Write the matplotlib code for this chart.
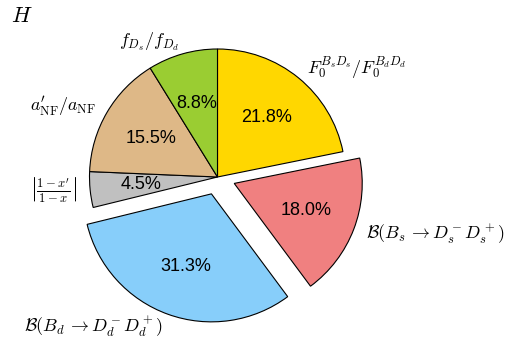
import matplotlib
matplotlib.use("Agg")
import matplotlib.pyplot as plt

# slice values (percent) in clockwise order from the top
labels = [r'$F_0^{B_sD_s}/F_0^{B_dD_d}$',
          r'$\mathcal{B}(B_s\, \to D_s^-D_s^+)$',
          r'$\mathcal{B}(B_d\, \to D_d^-D_d^+)$',
          r'$\left|\frac{1-x^\prime}{1-x}\right|$',
          r'$a_{\rm NF}^\prime/a_{\rm NF}$',
          r'$f_{D_s}/f_{D_d}$']
values = [21.8, 18.0, 31.3, 4.5, 15.5, 8.8]
colors = ['gold', 'lightcoral', 'lightskyblue', 'silver', 'burlywood', 'yellowgreen']
explode = [0, 0.14, 0.14, 0, 0, 0]

plt.rcParams['mathtext.fontset'] = 'cm'

fig = plt.figure(figsize=(5.05, 3.44), dpi=100)
ax = fig.add_axes([0, 0, 1, 1])

wedges, texts, autotexts = ax.pie(values, labels=labels, colors=colors, explode=explode,
                                  autopct='%1.1f%%', startangle=90, counterclock=False,
                                  wedgeprops=dict(edgecolor='black', linewidth=0.8),
                                  textprops=dict(fontsize=13))
for t in autotexts:
    t.set_fontfamily('Liberation Sans')
    t.set_fontsize(13)

# map data units onto pixels: radius ~128 px, centre at (217.5, 177) from top-left
r = 128.0
cx, cy = 217.5, 344 - 177
ax.set_aspect('auto')
ax.set_xlim(-cx / r, (505 - cx) / r)
ax.set_ylim(-cy / r, (344 - cy) / r)
ax.axis('off')

fig.text(0.022, 0.935, r'$H$', fontsize=16)

plt.savefig('out.png', dpi=100)
